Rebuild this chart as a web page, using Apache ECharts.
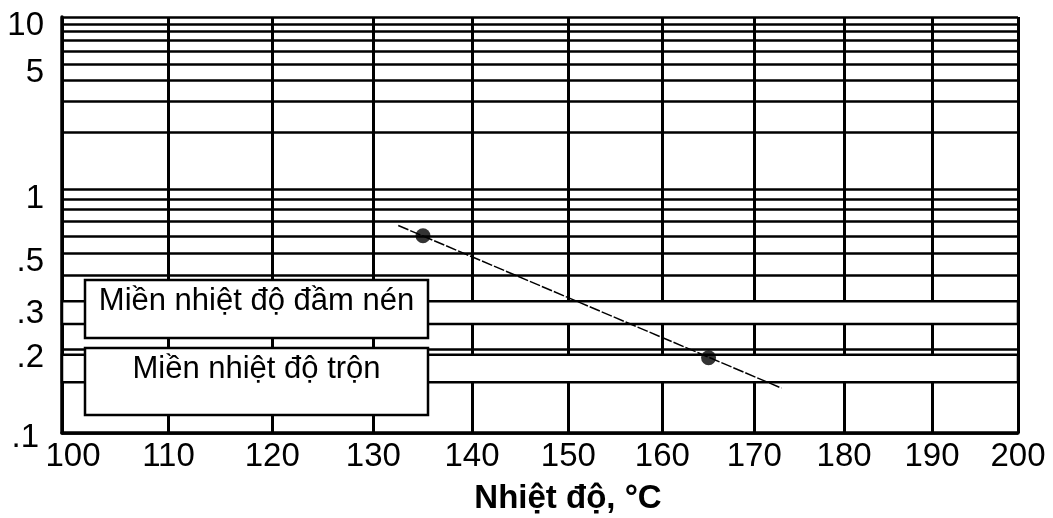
<!DOCTYPE html>
<html>
<head>
<meta charset="utf-8">
<script src="https://cdn.jsdelivr.net/npm/echarts@6/dist/echarts.min.js"></script>
<style>
html,body{margin:0;padding:0;background:#fff;}
#chart{width:1053px;height:518px;}
</style>
</head>
<body>
<div id="chart"></div>
<script>
// ---- data ----
const tempTicks = [100, 110, 120, 130, 140, 150, 160, 170, 180, 190, 200];
const viscGrid = [0.1, 0.2, 0.3, 0.4, 0.5, 0.6, 0.7, 0.8, 0.9, 1, 2, 3, 4, 5, 6, 7, 8, 9, 10];
const viscLabelValues = [0.1, 0.2, 0.3, 0.5, 1, 5, 10];
const viscLabelText = ['.1', '.2', '.3', '.5', '1', '5', '10'];
const compactionRange = [0.25, 0.31];
const mixingRange = [0.15, 0.19];
const measuredTemp = [135, 165];
const measuredVisc = [0.6, 0.185];
const fitTemp = [132.5, 173];
const fitVisc = [0.67, 0.143];
const boxLabels = ['Miền nhiệt độ đầm nén', 'Miền nhiệt độ trộn'];
const xTitle = 'Nhiệt độ, °C';

// chart scales: log of absolute temperature, log-log of viscosity (mPa·s)
const tx = t => Math.log10(t + 273.15);
const ty = v => Math.log10(Math.log10(v * 1000));
const fromTx = x => 10 ** x - 273.15;

const chart = echarts.init(document.getElementById('chart'), null, {renderer: 'canvas'});
const FONT = '"Liberation Sans", Arial, Helvetica, sans-serif';
const xMin = tx(tempTicks[0]), xMax = tx(tempTicks[tempTicks.length - 1]);
const yMin = ty(viscGrid[0]), yMax = ty(viscGrid[viscGrid.length - 1]);
const yLabelPos = viscLabelValues.map(ty);
const labelStyle = {fontFamily: FONT, fontSize: 33, color: '#000'};

const option = {
  backgroundColor: '#fff',
  animation: false,
  grid: {left: 62, right: 35, top: 17, bottom: 85, containLabel: false, outerBoundsMode: 'none'},
  xAxis: {
    type: 'value', min: xMin, max: xMax,
    name: xTitle, nameLocation: 'middle', nameGap: 49,
    nameTextStyle: {fontFamily: FONT, fontSize: 33, fontWeight: 'bold', color: '#000', padding: [0, 0, 0, 56]},
    axisLine: {show: true, lineStyle: {color: '#000', width: 3.5}},
    axisTick: {show: false, customValues: tempTicks.map(tx)},
    axisLabel: {
      customValues: tempTicks.map(tx), margin: 7,
      fontFamily: FONT, fontSize: 33, color: '#000',
      formatter: v => {
        const t = Math.round(fromTx(v));
        return t === tempTicks[0] ? '{first|' + t + '}' : '{n|' + t + '}';
      },
      rich: {
        n: Object.assign({}, labelStyle),
        first: Object.assign({padding: [0, 0, 0, 22]}, labelStyle)
      }
    },
    splitLine: {show: true, lineStyle: {color: '#000', width: 3}}
  },
  yAxis: {
    type: 'value', min: yMin, max: yMax,
    axisLine: {show: true, lineStyle: {color: '#000', width: 3.5}},
    axisTick: {show: false, customValues: viscGrid.map(ty)},
    axisLabel: {
      customValues: yLabelPos, margin: 18,
      fontFamily: FONT, fontSize: 33, color: '#000',
      formatter: v => {
        let best = 0;
        yLabelPos.forEach((p, i) => { if (Math.abs(p - v) < Math.abs(yLabelPos[best] - v)) best = i; });
        return (best === 0 ? '{b|' : '{d|') + viscLabelText[best] + '}';
      },
      rich: {
        d: Object.assign({padding: [18, 0, 0, 0]}, labelStyle),
        b: Object.assign({padding: [10, 5, 0, 0]}, labelStyle)
      }
    },
    splitLine: {show: true, lineStyle: {color: '#000', width: 2.5}}
  },
  series: [
    {
      type: 'line', data: [], silent: true,
      markArea: {
        silent: true,
        itemStyle: {color: '#fff', borderColor: '#000', borderWidth: 2.5},
        label: {show: false},
        data: [
          [{xAxis: xMin, yAxis: ty(compactionRange[0])}, {xAxis: xMax, yAxis: ty(compactionRange[1])}],
          [{xAxis: xMin, yAxis: ty(mixingRange[0])}, {xAxis: xMax, yAxis: ty(mixingRange[1])}]
        ]
      }
    },
    {
      type: 'line', symbol: 'none',
      data: fitTemp.map((t, i) => [tx(t), ty(fitVisc[i])]),
      lineStyle: {color: '#000', width: 1.5, type: [11, 2]}
    },
    {
      type: 'scatter', symbolSize: 15,
      data: measuredTemp.map((t, i) => [tx(t), ty(measuredVisc[i])]),
      itemStyle: {color: '#000'}
    }
  ],
  graphic: [
    {type: 'rect', z: 100, shape: {x: 85, y: 280, width: 343, height: 58},
     style: {fill: '#fff', stroke: '#000', lineWidth: 2.5}},
    {type: 'text', z: 101, x: 256.5, y: 286,
     style: {text: boxLabels[0], font: '31px ' + FONT, fill: '#000', align: 'center', verticalAlign: 'top'}},
    {type: 'rect', z: 100, shape: {x: 85, y: 348, width: 343, height: 67},
     style: {fill: '#fff', stroke: '#000', lineWidth: 2.5}},
    {type: 'text', z: 101, x: 256.5, y: 354,
     style: {text: boxLabels[1], font: '31px ' + FONT, fill: '#000', align: 'center', verticalAlign: 'top'}}
  ]
};
chart.setOption(option);
</script>
</body>
</html>
